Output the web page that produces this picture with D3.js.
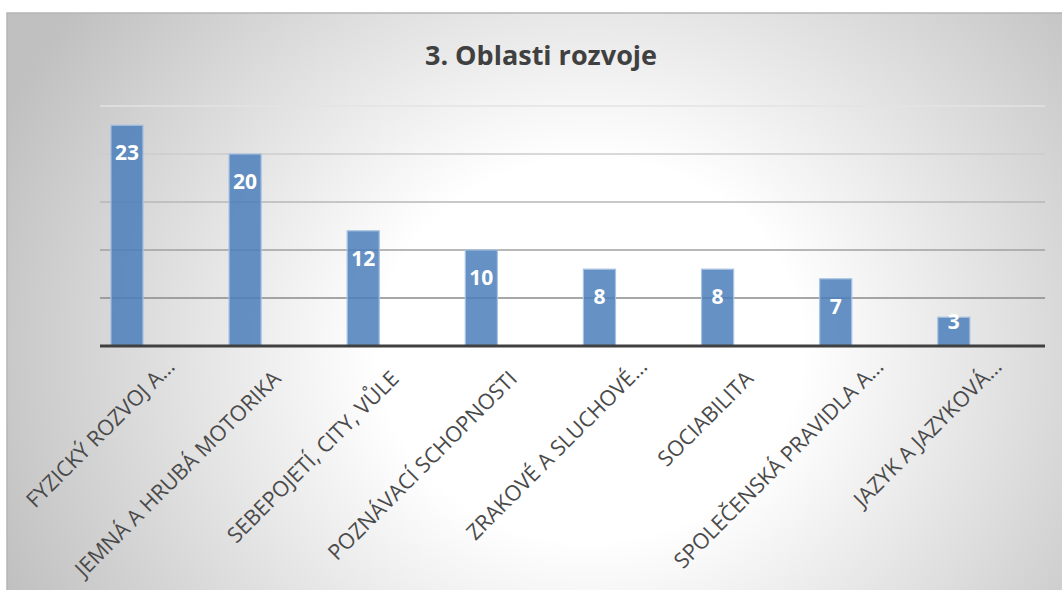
<!DOCTYPE html>
<html>
<head>
<meta charset="utf-8">
<script src="https://cdn.jsdelivr.net/npm/d3@7"></script>
<style>
  html, body { margin: 0; padding: 0; background: #ffffff; }
  svg { display: block; }
</style>
</head>
<body>
<svg id="chart" width="1062" height="590"></svg>
<script>
// ---- data ----
const title = "3. Oblasti rozvoje";
const categories = [
  "FYZICKÝ ROZVOJ A…",
  "JEMNÁ A HRUBÁ MOTORIKA",
  "SEBEPOJETÍ, CITY, VŮLE",
  "POZNÁVACÍ SCHOPNOSTI",
  "ZRAKOVÉ A SLUCHOVÉ…",
  "SOCIABILITA",
  "SPOLEČENSKÁ PRAVIDLA A…",
  "JAZYK A JAZYKOVÁ…"
];
const values = [23, 20, 12, 10, 8, 8, 7, 3];
const gridTicks = [5, 10, 15, 20, 25];
const yMax = 25;

// ---- layout ----
const W = 1062, H = 590;
const plot = { left: 100, right: 1045, top: 106, bottom: 346 };

const svg = d3.select("#chart");
const defs = svg.append("defs");

const bg = defs.append("radialGradient")
  .attr("id", "bg")
  .attr("gradientUnits", "userSpaceOnUse")
  .attr("cx", 0).attr("cy", 0).attr("r", 640)
  .attr("gradientTransform", "translate(590,350) scale(1,0.9)");
bg.append("stop").attr("offset", "0").attr("stop-color", "#ffffff");
bg.append("stop").attr("offset", "0.33").attr("stop-color", "#ffffff");
bg.append("stop").attr("offset", "1").attr("stop-color", "#c0c0c0");

svg.append("rect")
  .attr("x", 7).attr("y", 13)
  .attr("width", W + 20).attr("height", H + 20)
  .attr("fill", "url(#bg)")
  .attr("stroke", "#b5b5b5").attr("stroke-width", 1.5);

const x = d3.scaleBand().domain(categories)
  .range([plot.left, plot.right]).paddingInner(0).paddingOuter(0);
const slot = d3.scaleBand().domain([0, 1, 2])
  .range([0, x.bandwidth()]).paddingInner(0).paddingOuter(0.34);
const y = d3.scaleLinear().domain([0, yMax]).range([plot.bottom, plot.top]);
const gridColor = d3.scaleLinear().domain([5, yMax]).range(["#8a8a8a", "#e3e3e3"]);

// gridlines
svg.append("g").selectAll("line").data(gridTicks).join("line")
  .attr("x1", plot.left).attr("x2", plot.right)
  .attr("y1", d => y(d)).attr("y2", d => y(d))
  .attr("stroke", d => gridColor(d)).attr("stroke-width", 1.6);

// bars
svg.append("g").selectAll("rect").data(values).join("rect")
  .attr("x", (d, i) => x(categories[i]) + slot(0))
  .attr("y", d => y(d))
  .attr("width", slot.bandwidth())
  .attr("height", d => y(0) - y(d))
  .attr("fill", "#4a7ebb").attr("fill-opacity", 0.85)
  .attr("stroke", "#a9c2e2").attr("stroke-width", 1.2);

// axis line
svg.append("line")
  .attr("x1", plot.left).attr("x2", plot.right)
  .attr("y1", y(0)).attr("y2", y(0))
  .attr("stroke", "#404040").attr("stroke-width", 3);

// value labels
svg.append("g").selectAll("text").data(values).join("text")
  .attr("x", (d, i) => x(categories[i]) + slot(0) + slot.bandwidth() / 2)
  .attr("y", d => Math.min(y(d) + 35, y(0) - 17))
  .attr("text-anchor", "middle")
  .attr("font-family", "'Open Sans', sans-serif")
  .attr("font-weight", 700)
  .attr("font-size", 21)
  .attr("fill", "#ffffff")
  .text(d => d);

// category labels
svg.append("g").selectAll("text").data(categories).join("text")
  .attr("transform", d => `translate(${x(d) + x.bandwidth() / 2 + 5},${plot.bottom + 34}) rotate(-45)`)
  .attr("dx", d => d.endsWith("…") ? 17 : 0)
  .attr("text-anchor", "end")
  .attr("font-family", "'Open Sans', sans-serif")
  .attr("font-size", 21.5)
  .attr("fill", "#4a4a4a")
  .text(d => d);

// title
svg.append("text")
  .attr("x", 541).attr("y", 65)
  .attr("text-anchor", "middle")
  .attr("font-family", "'Open Sans', sans-serif")
  .attr("font-weight", 700)
  .attr("font-size", 27)
  .attr("fill", "#404040")
  .text(title);
</script>
</body>
</html>
